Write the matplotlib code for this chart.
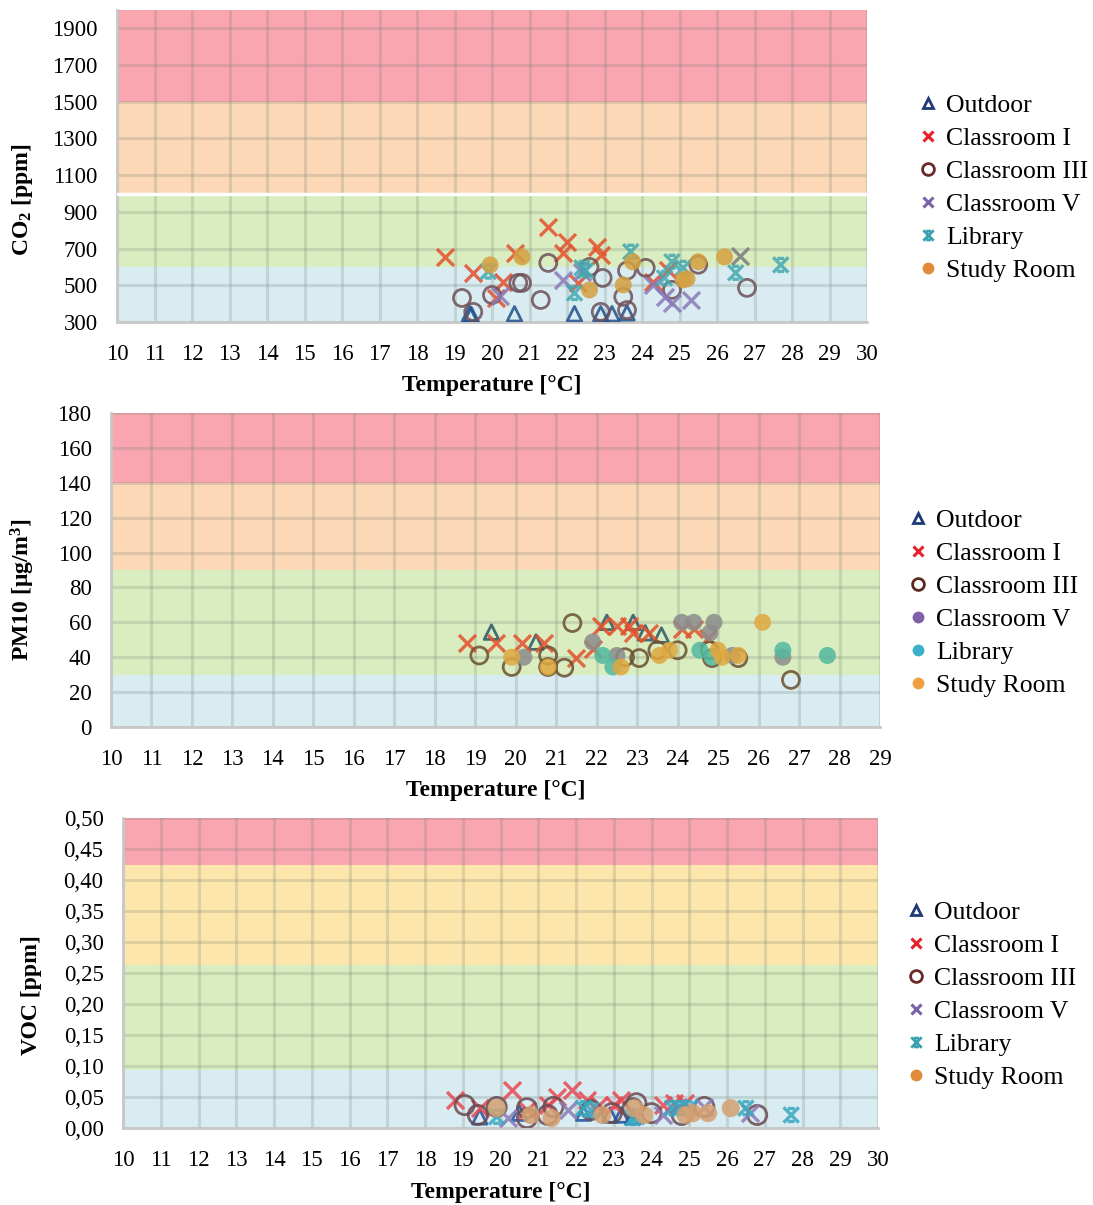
#!/usr/bin/env python3
# -*- coding: utf-8 -*-
"""
Indoor air quality vs temperature: CO2, PM10 and VOC per room.
"""

import numpy as np
import matplotlib
matplotlib.use("Agg")
import matplotlib.pyplot as plt
from matplotlib.lines import Line2D
from matplotlib.path import Path
from matplotlib.ticker import FuncFormatter, MultipleLocator

plt.rcParams["font.family"] = "Liberation Serif"
plt.rcParams["mathtext.fontset"] = "custom"
plt.rcParams["mathtext.rm"] = "Liberation Serif:bold"
plt.rcParams["mathtext.it"] = "Liberation Serif:bold"
plt.rcParams["mathtext.bf"] = "Liberation Serif:bold"

ROOMS = ["Outdoor", "Classroom I", "Classroom III", "Classroom V", "Library", "Study Room"]

# ---- CO2 panel (temperature, ppm) ----
co2_outdoor_t = [19.4, 19.45, 20.6, 22.2, 22.9, 23.2, 23.6]
co2_outdoor_v = [345, 340, 345, 345, 345, 345, 350]
co2_c1_t = [18.75, 19.5, 20.6, 21.5, 20.3, 20.1, 22.0, 21.9, 22.8, 22.9, 22.3, 24.3, 24.7]
co2_c1_v = [655, 568, 677, 819, 519, 430, 737, 677, 710, 666, 513, 520, 584]
co2_c3_t = [19.2, 19.5, 20.0, 20.7, 20.8, 21.3, 21.5, 22.6, 22.95, 22.9, 23.6, 23.5,
            24.1, 23.6, 24.8, 25.5, 26.8]
co2_c3_v = [431, 355, 447, 513, 513, 420, 622, 600, 540, 355, 580, 437,
            595, 365, 475, 612, 486]
co2_c5_t = [20.2, 21.9, 22.4, 24.3, 24.6, 24.8, 25.3]
co2_c5_v = [440, 530, 573, 502, 437, 404, 420]
co2_c5_grey_t = [26.6]
co2_c5_grey_v = [660]
co2_lib_t = [19.9, 22.4, 22.2, 22.5, 23.7, 24.8, 25.1, 24.6, 26.5, 27.7]
co2_lib_v = [575, 595, 458, 580, 683, 628, 595, 540, 568, 611]
co2_study_t = [19.95, 20.8, 22.6, 23.75, 23.5, 25.1, 25.2, 25.5, 26.2]
co2_study_v = [611, 655, 475, 628, 502, 530, 535, 628, 655]

# ---- PM10 panel (temperature, ug/m3) ----
pm_outdoor_t = [19.4, 20.5, 22.25, 22.9, 23.2, 23.6]
pm_outdoor_v = [54.4, 48.7, 60, 60, 54, 52.7]
pm_c1_t = [18.8, 19.5, 20.15, 20.7, 21.5, 21.9, 22.1, 22.5, 22.8, 22.9, 23.3, 24.1, 24.4, 24.75]
pm_c1_v = [48, 48, 48, 48, 39.5, 45, 58, 58, 58, 54, 54, 56, 56, 51]
pm_c3_t = [19.1, 19.9, 20.8, 20.8, 21.2, 21.4, 22.7, 23.05, 23.5, 24.0, 24.8, 24.85, 25.5, 26.8]
pm_c3_v = [41, 34.4, 41, 34.4, 34, 59.6, 40, 39.5, 44, 44, 44, 39.5, 39.5, 27]
pm_c5_t = [20.2, 21.9, 22.5, 24.1, 24.4, 24.9, 24.8, 25.35, 26.6]
pm_c5_v = [40, 48.7, 41, 60, 60, 60, 54, 41, 40]
pm_lib_t = [22.15, 22.4, 24.55, 24.85, 26.6, 27.7]
pm_lib_v = [41, 34.4, 44, 40, 44, 41]
pm_study_t = [19.9, 20.8, 22.6, 23.55, 23.8, 25.0, 25.1, 25.5, 26.1]
pm_study_v = [40, 34.4, 34.4, 41, 44, 44, 40, 41, 60]

# ---- VOC panel (temperature, ppm) ----
voc_outdoor_t = [19.45, 20.5, 22.2, 22.9, 23.2, 23.5]
voc_outdoor_v = [0.018, 0.024, 0.024, 0.021, 0.021, 0.018]
voc_c1_t = [18.8, 19.45, 20.3, 20.7, 21.25, 21.5, 21.9, 22.3, 22.6, 23.0, 23.2, 24.3, 24.6, 24.9]
voc_c1_v = [0.045, 0.032, 0.061, 0.029, 0.037, 0.050, 0.061, 0.045, 0.037, 0.037, 0.045,
            0.037, 0.040, 0.040]
voc_c3_t = [19.05, 19.4, 19.9, 20.7, 20.7, 21.25, 21.4, 22.4, 22.95, 23.5, 23.6, 24.0,
            24.8, 25.4, 26.8]
voc_c3_v = [0.037, 0.021, 0.034, 0.032, 0.016, 0.021, 0.034, 0.029, 0.024, 0.032, 0.040,
            0.024, 0.021, 0.034, 0.021]
voc_c5_t = [20.2, 21.8, 24.3, 24.7, 25.4, 26.6]
voc_c5_v = [0.016, 0.029, 0.021, 0.034, 0.034, 0.024]
voc_lib_t = [19.9, 22.2, 22.4, 23.5, 23.6, 24.55, 24.75, 25.0, 26.5, 27.7]
voc_lib_v = [0.018, 0.032, 0.029, 0.016, 0.018, 0.032, 0.032, 0.032, 0.032, 0.021]
voc_study_t = [19.9, 20.8, 21.35, 22.7, 23.55, 23.8, 24.9, 25.1, 25.5, 26.1]
voc_study_v = [0.032, 0.021, 0.016, 0.021, 0.032, 0.021, 0.021, 0.024, 0.024, 0.032]

# threshold bands (lower, upper)
co2_bands = [(300, 600), (600, 1000), (1000, 1500), (1500, 2000)]
pm_bands = [(0, 30), (30, 90), (90, 140), (140, 180)]
voc_bands = [(0, 0.094), (0.094, 0.263), (0.263, 0.424), (0.424, 0.5)]

BAND_BLUE = "#d8ecf1"
BAND_GREEN = "#d9edc0"
BAND_ORANGE = "#fcd8b6"
BAND_YELLOW = "#fde6ab"
BAND_RED = "#f9a6b0"


def asterisk_marker():
    '''Excel-like star marker: an x with short caps at top and bottom.'''
    verts = [(-1, -1), (1, 1), (-1, 1), (1, -1),
             (-0.45, 0.85), (0.45, 0.85), (-0.45, -0.85), (0.45, -0.85)]
    codes = [Path.MOVETO, Path.LINETO] * 4
    return Path(verts, codes)


STAR = asterisk_marker()


def style_axes(ax, bands, band_colors, xlim, ylim, ystep):
    for (lo, hi), col in zip(bands, band_colors):
        ax.axhspan(lo, hi, color=col, zorder=0, lw=0)
    ax.set_xlim(*xlim)
    ax.set_ylim(*ylim)
    ax.xaxis.set_major_locator(MultipleLocator(1))
    ax.yaxis.set_major_locator(MultipleLocator(ystep))
    ax.grid(True, color=(0.45, 0.5, 0.45), alpha=0.22, lw=2.2, zorder=1)
    ax.set_axisbelow(True)
    ax.tick_params(length=0, labelsize=16.5)
    ax.tick_params(axis="x", pad=16)
    ax.tick_params(axis="y", pad=14)
    for side in ["top", "right"]:
        ax.spines[side].set_visible(False)
    for side in ["left", "bottom"]:
        ax.spines[side].set_color("#c8c8c8")
        ax.spines[side].set_linewidth(2)
        ax.spines[side].set_zorder(1)


def scatter(ax, t, v, marker, color, size, kind="open", lw=2.0, alpha=0.85):
    if kind == "filled":
        ax.scatter(t, v, marker=marker, s=size, color=color, edgecolors="none",
                   alpha=alpha, zorder=3)
    elif kind == "line":
        ax.scatter(t, v, marker=marker, s=size, color=color,
                   linewidths=lw, alpha=alpha, zorder=3)
    else:
        ax.scatter(t, v, marker=marker, s=size, facecolors="none",
                   edgecolors=color, linewidths=lw, alpha=alpha, zorder=3)


def add_legend(fig, handles, x_px, y_px):
    fig.legend(handles=handles, labels=ROOMS, loc="upper left",
               bbox_to_anchor=(x_px / 1093, 1 - y_px / 1205),
               frameon=False, fontsize=18.5, handlelength=0.75,
               handletextpad=0.35, labelspacing=0.39,
               borderaxespad=0, borderpad=0)


def legend_handles(c3_color, c5, lib, study):
    h = [Line2D([], [], ls="none", marker="^", ms=7.5, mfc="none", mec="#1f3a78", mew=2),
         Line2D([], [], ls="none", marker="x", ms=7.5, mec="#e8202a", mew=2.2),
         Line2D([], [], ls="none", marker="o", ms=8.5, mfc="none", mec=c3_color, mew=2)]
    h.append(c5)
    h.append(lib)
    h.append(study)
    return h


def main():
    fig = plt.figure(figsize=(10.93, 12.05), dpi=100)

    # ---------------- CO2 ----------------
    ax1 = fig.add_axes([117 / 1093, 1 - 322 / 1205, 750 / 1093, 312 / 1205])
    style_axes(ax1, co2_bands, [BAND_BLUE, BAND_GREEN, BAND_ORANGE, BAND_RED],
               (10, 30), (300, 2000), 200)
    ax1.set_yticks(np.arange(300, 2000, 200))
    ax1.axhline(1000, color="white", lw=2.5, zorder=1.5)
    scatter(ax1, co2_outdoor_t, co2_outdoor_v, "^", "#22508c", 110)
    scatter(ax1, co2_c1_t, co2_c1_v, "x", "#e4502c", 150, kind="line", lw=2.4)
    scatter(ax1, co2_c3_t, co2_c3_v, "o", "#6e5058", 150)
    scatter(ax1, co2_c5_t, co2_c5_v, "x", "#8a7ab8", 150, kind="line", lw=2.4)
    scatter(ax1, co2_c5_grey_t, co2_c5_grey_v, "x", "#7c7c7c", 150, kind="line", lw=2.4)
    scatter(ax1, co2_lib_t, co2_lib_v, STAR, "#45a8b0", 120, lw=2.4)
    scatter(ax1, co2_study_t, co2_study_v, "o", "#d4a040", 150, kind="filled")
    ax1.set_xlabel("Temperature [°C]", fontsize=17, fontweight="bold")
    ax1.set_ylabel("CO$_2$ [ppm]", fontsize=17, fontweight="bold")
    ax1.xaxis.set_label_coords(0.5, -0.17)
    ax1.yaxis.set_label_coords(-0.109, 0.39)
    h1 = legend_handles(
        "#6b2a2a",
        Line2D([], [], ls="none", marker="x", ms=7.5, mec="#7a62a8", mew=2.2),
        Line2D([], [], ls="none", marker=STAR, ms=7.5, mec="#3aa0b0", mfc="none", mew=2),
        Line2D([], [], ls="none", marker="o", ms=8.5, mfc="#e08a3a", mec="none"))
    add_legend(fig, h1, 918, 94)

    # ---------------- PM10 ----------------
    ax2 = fig.add_axes([111 / 1093, 1 - 727 / 1205, 769 / 1093, 314 / 1205])
    style_axes(ax2, pm_bands, [BAND_BLUE, BAND_GREEN, BAND_ORANGE, BAND_RED],
               (10, 29), (0, 180), 20)
    scatter(ax2, pm_outdoor_t, pm_outdoor_v, "^", "#2a5566", 110)
    scatter(ax2, pm_c1_t, pm_c1_v, "x", "#e4502c", 150, kind="line", lw=2.4)
    scatter(ax2, pm_c3_t, pm_c3_v, "o", "#6b5030", 150)
    scatter(ax2, pm_c5_t, pm_c5_v, "o", "#8c8c8c", 150, kind="filled")
    scatter(ax2, pm_lib_t, pm_lib_v, "o", "#52b8a0", 150, kind="filled")
    scatter(ax2, pm_study_t, pm_study_v, "o", "#e0a840", 150, kind="filled")
    ax2.set_xlabel("Temperature [°C]", fontsize=17, fontweight="bold")
    ax2.set_ylabel("PM10 [μg/m$^3$]", fontsize=17, fontweight="bold")
    ax2.xaxis.set_label_coords(0.5, -0.17)
    ax2.yaxis.set_label_coords(-0.096, 0.436)
    h2 = legend_handles(
        "#5a2a1e",
        Line2D([], [], ls="none", marker="o", ms=8.5, mfc="#8060a8", mec="none"),
        Line2D([], [], ls="none", marker="o", ms=8.5, mfc="#3ab0c8", mec="none"),
        Line2D([], [], ls="none", marker="o", ms=8.5, mfc="#f0a040", mec="none"))
    add_legend(fig, h2, 908, 509)

    # ---------------- VOC ----------------
    ax3 = fig.add_axes([123 / 1093, 1 - 1128 / 1205, 755 / 1093, 310 / 1205])
    style_axes(ax3, voc_bands, [BAND_BLUE, BAND_GREEN, BAND_YELLOW, BAND_RED],
               (10, 30), (0, 0.5), 0.05)
    ax3.yaxis.set_major_formatter(FuncFormatter(lambda v, p: f"{v:.2f}".replace(".", ",")))
    scatter(ax3, voc_outdoor_t, voc_outdoor_v, "^", "#2050a0", 110)
    scatter(ax3, voc_c1_t, voc_c1_v, "x", "#e84850", 150, kind="line", lw=2.4)
    scatter(ax3, voc_c3_t, voc_c3_v, "o", "#6b4a50", 190)
    scatter(ax3, voc_c5_t, voc_c5_v, "x", "#8a7ab8", 150, kind="line", lw=2.4)
    scatter(ax3, voc_lib_t, voc_lib_v, STAR, "#3aa8c0", 120, lw=2.4)
    scatter(ax3, voc_study_t, voc_study_v, "o", "#d4a070", 170, kind="filled")
    ax3.set_xlabel("Temperature [°C]", fontsize=17, fontweight="bold")
    ax3.set_ylabel("VOC [ppm]", fontsize=17, fontweight="bold")
    ax3.xaxis.set_label_coords(0.5, -0.175)
    ax3.yaxis.set_label_coords(-0.107, 0.43)
    add_legend(fig, h1, 906, 901)

    fig.savefig("out.png", dpi=100)


if __name__ == "__main__":
    main()
